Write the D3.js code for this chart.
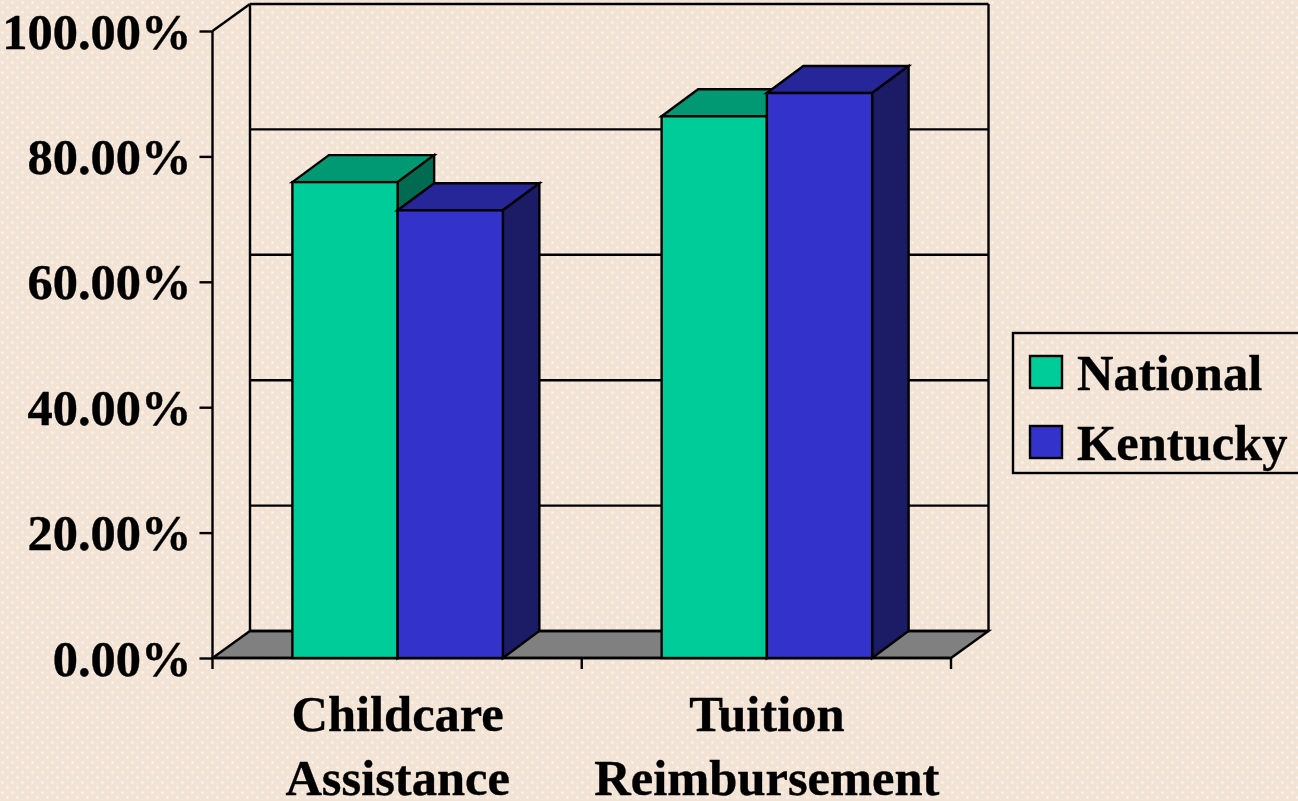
<!DOCTYPE html>
<html>
<head>
<meta charset="utf-8">
<script src="https://cdn.jsdelivr.net/npm/d3@7"></script>
<style>
  html, body { margin: 0; padding: 0; background: #f2e3d5; overflow: hidden; }
  svg { display: block; }
  text { font-family: "Liberation Serif", serif; font-weight: bold; fill: #000; stroke: #000; stroke-width: 0.4px; }
</style>
</head>
<body>
<svg id="viz" width="1298" height="801"></svg>
<script>
const categories = [['Childcare', 'Assistance'], ['Tuition', 'Reimbursement']];
const seriesNames = ['National', 'Kentucky'];
const national = [75.9, 86.4];
const kentucky = [71.4, 90.1];
const yTicks = [0, 20, 40, 60, 80, 100];

const colors = {
  National: { front: '#00cc99', top: '#009973', side: '#006b50' },
  Kentucky: { front: '#3333cc', top: '#262699', side: '#1b1b66' }
};

// front plane of the chart, the back wall is this shifted by depth
const plotLeft = 212.5, plotRight = 951, plotBottom = 658, plotTop = 31;
const depthX = 37.5, depthY = -27;
const barDepthX = 36.5;
const fontSize = '50.5px';

const svg = d3.select('#viz');

// BACKGROUND

const defs = svg.append('defs');
const glow = defs.append('radialGradient').attr('id', 'dot');
glow.append('stop').attr('offset', '0%').attr('stop-color', '#fff').attr('stop-opacity', 0.7);
glow.append('stop').attr('offset', '100%').attr('stop-color', '#fff').attr('stop-opacity', 0);
const tile = defs.append('pattern')
  .attr('id', 'paper')
  .attr('patternUnits', 'userSpaceOnUse')
  .attr('width', 10)
  .attr('height', 10);
tile.append('rect').attr('width', 10).attr('height', 10).attr('fill', '#f2e3d5');
[[2.5, 2.5], [7.5, 7.5]].forEach((p) => {
  tile.append('circle').attr('cx', p[0]).attr('cy', p[1]).attr('r', 2.2).attr('fill', 'url(#dot)');
});
svg.append('rect').attr('width', 1298).attr('height', 801).attr('fill', 'url(#paper)');

// SCALES

const x0 = d3.scaleBand().domain(d3.range(categories.length)).range([plotLeft + 0.5, plotRight + 0.5])
  .paddingInner(0.43).paddingOuter(0.215);
const x1 = d3.scaleBand().domain(seriesNames).range([0, x0.bandwidth()]);
const y = d3.scaleLinear().domain([0, 100]).range([plotBottom, plotTop]);

const poly = (pts) => pts.map((p) => p.join(',')).join(' ');
const applyLine = (sel) => sel.attr('stroke', '#000').attr('stroke-width', 2.4);

// WALLS AND FLOOR

const chart = svg.append('g');

applyLine(chart.append('polygon'))
  .attr('points', poly([
    [plotLeft, y(0)], [plotLeft + depthX, y(0) + depthY],
    [plotRight + depthX, y(0) + depthY], [plotRight, y(0)]
  ]))
  .attr('fill', '#808080');

applyLine(chart.append('g').selectAll('line').data(yTicks).enter().append('line'))
  .attr('x1', plotLeft + depthX)
  .attr('x2', plotRight + depthX)
  .attr('y1', (d) => y(d) + depthY)
  .attr('y2', (d) => y(d) + depthY);

applyLine(chart.append('line'))
  .attr('x1', plotLeft + depthX).attr('x2', plotLeft + depthX)
  .attr('y1', y(0) + depthY).attr('y2', y(100) + depthY);
applyLine(chart.append('line'))
  .attr('x1', plotRight + depthX).attr('x2', plotRight + depthX)
  .attr('y1', y(0) + depthY).attr('y2', y(100) + depthY);
applyLine(chart.append('line'))
  .attr('x1', plotLeft).attr('x2', plotLeft + depthX)
  .attr('y1', y(100)).attr('y2', y(100) + depthY);

// AXES

const yAxis = chart.append('g')
  .attr('transform', 'translate(' + plotLeft + ',0)')
  .call(d3.axisLeft(y).tickValues(yTicks).tickSize(13).tickPadding(8)
    .tickFormat((d) => d.toFixed(2) + '%'));
yAxis.selectAll('line, path').attr('stroke', '#000').attr('stroke-width', 2.4);
yAxis.select('.domain').attr('d', 'M0,' + y(100) + 'V' + y(0));
yAxis.selectAll('text')
  .style('font-family', '"Liberation Serif", serif')
  .style('font-weight', 'bold')
  .style('font-size', fontSize)
  .attr('dy', '0.34em');

const xStep = d3.scaleLinear().domain([0, categories.length]).range([plotLeft, plotRight]);
applyLine(chart.append('line'))
  .attr('x1', plotLeft).attr('x2', plotRight)
  .attr('y1', y(0)).attr('y2', y(0));
applyLine(chart.append('g').selectAll('line').data(d3.range(categories.length + 1)).enter().append('line'))
  .attr('x1', (d) => xStep(d))
  .attr('x2', (d) => xStep(d))
  .attr('y1', y(0))
  .attr('y2', y(0) + 11);

// BARS

const bars = [];
categories.forEach((c, i) => {
  bars.push({ cat: i, name: 'National', value: national[i] });
  bars.push({ cat: i, name: 'Kentucky', value: kentucky[i] });
});

const bar = chart.append('g').selectAll('g').data(bars).enter().append('g');

applyLine(bar.append('polygon'))
  .attr('points', (d) => {
    const a = x0(d.cat) + x1(d.name), b = a + x1.bandwidth(), t = y(d.value);
    return poly([[a, t], [a + barDepthX, t + depthY], [b + barDepthX, t + depthY], [b, t]]);
  })
  .attr('fill', (d) => colors[d.name].top);

applyLine(bar.append('polygon'))
  .attr('points', (d) => {
    const b = x0(d.cat) + x1(d.name) + x1.bandwidth(), t = y(d.value);
    return poly([[b, t], [b + barDepthX, t + depthY], [b + barDepthX, y(0) + depthY], [b, y(0)]]);
  })
  .attr('fill', (d) => colors[d.name].side);

applyLine(bar.append('rect'))
  .attr('x', (d) => x0(d.cat) + x1(d.name))
  .attr('y', (d) => y(d.value))
  .attr('width', x1.bandwidth())
  .attr('height', (d) => y(0) - y(d.value))
  .attr('fill', (d) => colors[d.name].front);

// LABELS

const catLabel = svg.append('g').selectAll('text').data(categories).enter().append('text')
  .attr('text-anchor', 'middle')
  .style('font-size', fontSize);
catLabel.selectAll('tspan').data((d, i) => d.map((t) => ({ t, i }))).enter().append('tspan')
  .attr('x', (d) => x0(d.i) + x0.bandwidth() / 2)
  .attr('y', (d, j) => 731 + j * 64)
  .text((d) => d.t);

// LEGEND

const legend = svg.append('g');
applyLine(legend.append('rect'))
  .attr('x', 1013).attr('y', 333).attr('width', 300).attr('height', 140)
  .attr('fill', 'none');
const item = legend.selectAll('g').data(seriesNames).enter().append('g')
  .attr('transform', (d, i) => 'translate(1030,' + (356 + i * 70) + ')');
applyLine(item.append('rect'))
  .attr('width', 32).attr('height', 32)
  .attr('fill', (d) => colors[d].front);
item.append('text')
  .attr('x', 47).attr('y', 34)
  .style('font-size', fontSize)
  .text((d) => d);
</script>
</body>
</html>
